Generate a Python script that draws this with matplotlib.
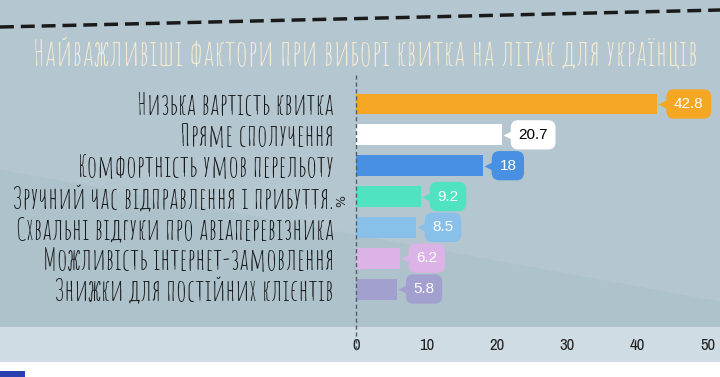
import matplotlib.pyplot as plt
from matplotlib.patches import Rectangle, Polygon
from matplotlib.lines import Line2D

categories = ['Низька вартість квитка', 'Пряме сполучення', 'Комфортність умов перельоту',
              'Зручний час відправлення і прибуття.', 'Схвальні відгуки про авіаперевізника',
              'Можливість інтернет-замовлення', 'Знижки для постійних клієнтів']
values = [42.8, 20.7, 18, 9.2, 8.5, 6.2, 5.8]
colors = ['#f5a623', '#ffffff', '#4a90e2', '#50e3c2', '#88c0ea', '#dbb3e6', '#a2a0cf']
text_colors = ['white', 'black', 'white', 'white', 'white', 'white', 'white']
xticks = [0, 10, 20, 30, 40, 50]
title = 'Найважливіші фактори при виборі квитка на літак для українців'

HAND = ['Amatic SC', 'DejaVu Sans']
NARROW = ['Archivo Narrow', 'Liberation Sans']

W, H = 720, 377
fig = plt.figure(figsize=(W / 100, H / 100), dpi=100, facecolor='white')

# background bands
fig.add_artist(Rectangle((0, (H - 327) / H), 1, 327 / H, transform=fig.transFigure,
                         fc='#b4c6d0', ec='none', zorder=-3))
fig.add_artist(Polygon([(0, 0.55), (1, 0.20), (1, (H - 327) / H), (0, (H - 327) / H)],
                       transform=fig.transFigure, fc='#aec2cc', ec='none', zorder=-2))
fig.add_artist(Rectangle((0, (H - 362) / H), 1, 35 / H, transform=fig.transFigure,
                         fc='#cfdce3', ec='none', zorder=-3))
fig.add_artist(Rectangle((0, 0), 25 / W, 6 / H, transform=fig.transFigure,
                         fc='#2a3fb0', ec='none', zorder=-3))
# dashed decoration at the top
fig.add_artist(Line2D([0, 1], [1 - 27 / H, 1 - 10 / H], transform=fig.transFigure,
                      color='#1a1a1a', lw=2.5, ls=(0, (4, 2))))

fig.text(0.507, 1 - 53 / H, title, ha='center', va='center', color='#f3ead3',
         fontsize=26, family=HAND)

ax = fig.add_axes([356 / W, (H - 327) / H, 352 / W, 252 / H])
ax.set_facecolor('none')
for s in ax.spines.values():
    s.set_visible(False)

ypos = list(range(len(categories)))
ax.barh(ypos, values, height=0.68, color=colors)
ax.set_xlim(0, 50)
ax.set_ylim(7.23, -0.94)
ax.set_xticks(xticks)
ax.set_xticklabels([str(t) for t in xticks], fontsize=12, color='#222222', family=NARROW)
ax.tick_params(axis='x', length=0, pad=8)
ax.set_yticks(ypos)
ax.set_yticklabels(categories, fontsize=22, color='#1a1a1a', family=HAND)
ax.tick_params(axis='y', length=0, pad=16)
ax.set_ylabel('%', fontsize=9, color='#222222')
ax.yaxis.set_label_coords(-0.021, 0.5)
ax.axvline(0, ymin=-0.09, ymax=1, color='#555e66', lw=1, ls=(0, (3, 2)), clip_on=False)

for y, v, c, tc in zip(ypos, values, colors, text_colors):
    ax.plot(v + 1.0, y, marker='<', ms=8, color=c, mec='none', zorder=3)
    ax.annotate(f'{v:g}', xy=(v, y), xytext=(12, 0), textcoords='offset points',
                ha='left', va='center', fontsize=11, color=tc, family='Liberation Sans',
                bbox=dict(boxstyle='round,pad=0.5,rounding_size=0.5', fc=c, ec='none'),
                zorder=4)

fig.savefig('out.png', dpi=100, facecolor=fig.get_facecolor())
